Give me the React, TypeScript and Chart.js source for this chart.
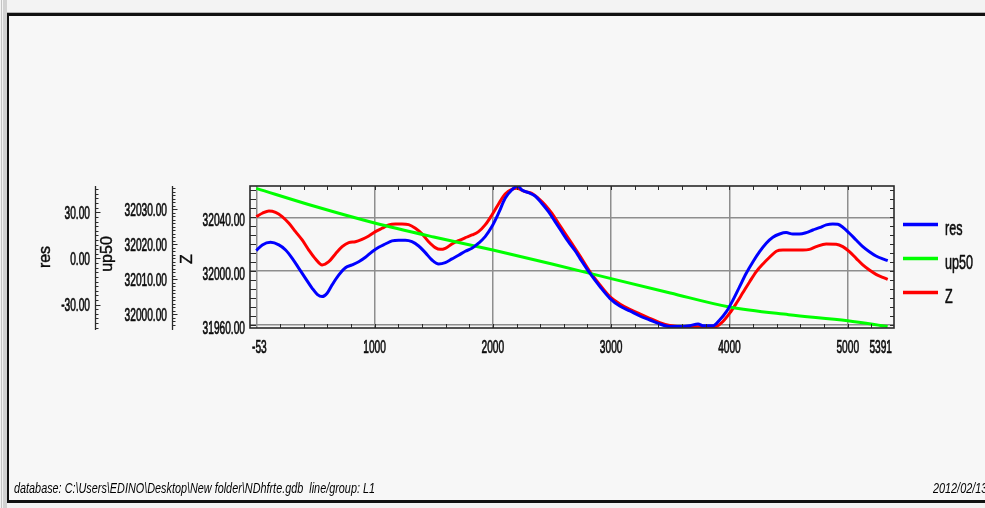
import { useEffect, useRef } from 'react';
import { Chart, registerables } from 'chart.js';

Chart.register(...registerables);

// ---------- data ----------
const seriesNames = ['res', 'up50', 'Z'];

const resX = [0, 51, 121, 191, 248, 304, 360, 416, 473, 515, 557, 599, 641, 698, 754, 810, 866, 923, 979, 1035, 1091, 1148, 1204, 1260, 1316, 1373, 1429, 1485, 1542, 1598, 1654, 1710, 1767, 1823, 1879, 1935, 1992, 2048, 2104, 2160, 2211, 2245, 2301, 2357, 2413, 2470, 2526, 2582, 2638, 2695, 2736, 2820, 2905, 2989, 3073, 3158, 3242, 3327, 3411, 3495, 3580, 3664, 3735, 3777, 3861, 3917, 3974, 4030, 4086, 4142, 4199, 4255, 4311, 4367, 4424, 4480, 4536, 4592, 4649, 4705, 4761, 4818, 4874, 4916, 4958, 5014, 5071, 5127, 5183, 5239, 5296, 5338];
const resValues = [5.1, 8.8, 10.5, 8.8, 5.5, 0.1, -6.4, -12.9, -19.4, -23.3, -24.8, -22.6, -17.2, -10.7, -6.0, -4.2, -2.1, 0.8, 4.4, 7.3, 9.4, 11.4, 11.8, 11.8, 10.9, 8.1, 3.8, -1.0, -3.6, -2.7, -0.3, 2.1, 4.7, 6.6, 9.9, 14.2, 20.7, 29.4, 39.1, 44.5, 47.1, 44.5, 42.8, 40.6, 35.9, 30.4, 23.9, 17.4, 10.9, 5.0, 0.1, -9.6, -18.3, -25.9, -30.9, -34.1, -37.4, -40.0, -42.6, -44.3, -44.3, -43.7, -42.6, -43.7, -43.7, -40.0, -34.6, -27.0, -18.3, -9.6, -2.1, 4.4, 9.9, 13.8, 15.9, 16.8, 15.9, 15.9, 16.8, 18.5, 20.0, 21.8, 22.4, 22.2, 20.3, 16.4, 12.0, 7.7, 4.4, 1.6, -0.3, -1.4];

const up50X = [0, 500, 1000, 1500, 2000, 2500, 3000, 3500, 4000, 4500, 5000, 5337];
const up50Values = [32036.0, 32030.8, 32026.1, 32022.1, 32018.4, 32014.4, 32010.2, 32006.1, 32002.1, 31999.9, 31998.2, 31996.5];

const zX = [0, 51, 107, 163, 219, 276, 332, 388, 444, 501, 557, 613, 669, 726, 782, 838, 894, 951, 1007, 1063, 1120, 1176, 1232, 1288, 1345, 1401, 1457, 1513, 1556, 1598, 1654, 1710, 1767, 1823, 1879, 1935, 1992, 2048, 2104, 2160, 2203, 2273, 2329, 2385, 2442, 2498, 2554, 2610, 2667, 2736, 2820, 2905, 2989, 3073, 3158, 3242, 3327, 3411, 3495, 3580, 3664, 3749, 3833, 3889, 3945, 4002, 4058, 4114, 4171, 4227, 4283, 4339, 4396, 4452, 4536, 4621, 4677, 4733, 4818, 4902, 4958, 5014, 5071, 5127, 5183, 5239, 5296, 5338];
const zValues = [32040.5, 32043.0, 32044.7, 32043.7, 32040.5, 32035.5, 32029.3, 32023.1, 32015.6, 32008.9, 32004.5, 32006.9, 32012.7, 32018.1, 32021.1, 32021.8, 32023.6, 32026.1, 32029.3, 32031.8, 32034.3, 32035.0, 32035.0, 32034.5, 32031.8, 32027.6, 32021.8, 32017.4, 32016.1, 32016.9, 32020.1, 32022.6, 32024.8, 32026.8, 32029.3, 32034.3, 32041.7, 32049.9, 32057.4, 32060.8, 32061.6, 32059.1, 32057.9, 32054.1, 32049.2, 32043.0, 32035.5, 32028.1, 32020.5, 32011.2, 31999.5, 31989.6, 31980.9, 31975.4, 31971.4, 31968.0, 31964.7, 31961.5, 31959.3, 31958.5, 31958.5, 31958.5, 31957.8, 31958.5, 31962.3, 31968.5, 31975.9, 31983.9, 31992.0, 31999.5, 32005.2, 32010.2, 32014.7, 32015.6, 32015.6, 32015.6, 32016.1, 32018.1, 32020.1, 32019.9, 32018.1, 32014.4, 32009.4, 32004.5, 32000.7, 31997.5, 31995.3, 31993.8];

// axis ranges and ticks
const xMin = -53;
const xMax = 5391;
const xTickLabels = [-53, 1000, 2000, 3000, 4000, 5000, 5391];
const xGridValues = [0, 1000, 2000, 3000, 4000, 5000];
const xMinorStep = 200;

const zMin = 31957.5;
const zMax = 32063.3;
const zTickValues = [31960, 32000, 32040];
const zMinorStep = 40 / 6;

const up50Min = 31996.1;
const up50Max = 32036.66;
const up50TickValues = [32000, 32010, 32020, 32030];
const up50MinorStep = 1;

const resMin = -45.2;
const resMax = 47.1;
const resTickValues = [-30, 0, 30];
const resMinorStep = 3;

const FOOTER_TEXT = 'database: C:\\Users\\EDINO\\Desktop\\New folder\\NDhfrte.gdb  line/group: L1';
const DATE_TEXT = '2012/02/13';

// ---------- styles ----------
const COLORS = ['#0000ff', '#00ff00', '#ff0000'];
const GRID = '#8e8e8e';
const INK = '#0c0c0c';
const FRAME = '#2a2a2a';
const FONT_FAMILY = '"Liberation Sans", Arial, sans-serif';
const TICK_FONT = `18px ${FONT_FAMILY}`;
const TICK_SX = 0.565;
const TITLE_FONT = `16px ${FONT_FAMILY}`;
const LEGEND_FONT = `21px ${FONT_FAMILY}`;
const LEGEND_SX = 0.6;
const FOOTER_FONT = `italic 15px ${FONT_FAMILY}`;
const FOOTER_WIDTH = 361;

function squish(ctx: CanvasRenderingContext2D, text: string, x: number, y: number, align: 'left' | 'right' | 'center', font: string, sx: number, bolden = 0) {
  ctx.save();
  ctx.font = font;
  const w = ctx.measureText(text).width * sx;
  const left = align === 'left' ? x : align === 'right' ? x - w : x - w / 2;
  ctx.translate(left, y);
  ctx.scale(sx, 1);
  ctx.textAlign = 'left';
  ctx.textBaseline = 'alphabetic';
  ctx.fillText(text, 0, 0);
  if (bolden > 0) {
    ctx.strokeStyle = ctx.fillStyle as string;
    ctx.lineWidth = bolden;
    ctx.lineJoin = 'round';
    ctx.strokeText(text, 0, 0);
  }
  ctx.restore();
}

function rotatedTitle(ctx: CanvasRenderingContext2D, text: string, baselineX: number, cy: number) {
  ctx.save();
  ctx.font = TITLE_FONT;
  ctx.translate(baselineX, cy);
  ctx.rotate(-Math.PI / 2);
  ctx.textAlign = 'center';
  ctx.textBaseline = 'alphabetic';
  ctx.fillText(text, 0, 0);
  ctx.strokeStyle = ctx.fillStyle as string;
  ctx.lineWidth = 0.4;
  ctx.strokeText(text, 0, 0);
  ctx.restore();
}

const profilePlugin = {
  id: 'profileDecor',
  afterDatasetsDraw(chart: any) {
    const { ctx, chartArea: a, scales } = chart;
    const sx = scales.x;
    const sZ = scales.yZ;
    const sUp = scales.yUp50;
    const sRes = scales.yRes;
    ctx.save();

    // plot frame
    ctx.strokeStyle = FRAME;
    ctx.lineWidth = 1.6;
    ctx.strokeRect(a.left, a.top, a.right - a.left, a.bottom - a.top);

    // inner tick marks
    ctx.lineWidth = 1;
    ctx.beginPath();
    for (let i = Math.ceil(sZ.min / zMinorStep); i * zMinorStep <= sZ.max; i++) {
      const py = Math.round(sZ.getPixelForValue(i * zMinorStep)) + 0.5;
      ctx.moveTo(a.left, py);
      ctx.lineTo(a.left + 6, py);
      ctx.moveTo(a.right, py);
      ctx.lineTo(a.right - 4, py);
    }
    for (let i = 1; i * xMinorStep < sx.max; i++) {
      const px = Math.round(sx.getPixelForValue(i * xMinorStep)) + 0.5;
      ctx.moveTo(px, a.top);
      ctx.lineTo(px, a.top + 4);
      ctx.moveTo(px, a.bottom);
      ctx.lineTo(px, a.bottom - 4);
    }
    ctx.stroke();

    // detached axes (res, up50)
    const detached = (scale: any, step: number, majors: number[]) => {
      const ax = Math.round(scale.right) + 0.5;
      ctx.beginPath();
      ctx.lineWidth = 1.3;
      ctx.moveTo(ax, a.top);
      ctx.lineTo(ax, a.bottom + 2);
      ctx.stroke();
      ctx.beginPath();
      ctx.lineWidth = 1;
      for (let i = Math.ceil(scale.min / step); i * step <= scale.max; i++) {
        const v = i * step;
        const major = majors.some((m) => Math.abs(m - v) < 1e-6);
        const py = Math.round(scale.getPixelForValue(v)) + 0.5;
        ctx.moveTo(ax, py);
        ctx.lineTo(ax + (major ? 5 : 3), py);
      }
      ctx.stroke();
    };
    detached(sRes, resMinorStep, resTickValues);
    detached(sUp, up50MinorStep, up50TickValues);

    // tick labels
    ctx.fillStyle = INK;
    const B = 0.7;
    resTickValues.forEach((v) => squish(ctx, v.toFixed(2), sRes.right - 5, sRes.getPixelForValue(v) + 6.4, 'right', TICK_FONT, TICK_SX, B));
    up50TickValues.forEach((v) => squish(ctx, v.toFixed(2), sUp.right - 5, sUp.getPixelForValue(v) + 6.4, 'right', TICK_FONT, TICK_SX, B));
    zTickValues.forEach((v) => squish(ctx, v.toFixed(2), sZ.right - 5, sZ.getPixelForValue(v) + 9.2, 'right', TICK_FONT, TICK_SX, B));
    xTickLabels.forEach((v, i) => {
      const last = xTickLabels.length - 1;
      const px = sx.getPixelForValue(v);
      const align = i === 0 ? 'left' : i === last ? 'right' : 'center';
      const off = i === 0 ? 2 : i === last ? -2 : 0;
      squish(ctx, String(v), px + off, a.bottom + 25, align, TICK_FONT, TICK_SX, B);
    });

    // axis titles
    const cy = (a.top + a.bottom) / 2;
    rotatedTitle(ctx, seriesNames[0], sRes.left + 20, cy);
    rotatedTitle(ctx, seriesNames[1], sUp.left + 16.6, cy - 3);
    rotatedTitle(ctx, seriesNames[2], sZ.left + 19.7, cy + 2);

    // legend
    seriesNames.forEach((name, i) => {
      const ly = a.top + 38.5 + i * 34;
      ctx.beginPath();
      ctx.strokeStyle = COLORS[i];
      ctx.lineWidth = 3.5;
      ctx.moveTo(a.right + 9, ly);
      ctx.lineTo(a.right + 44, ly);
      ctx.stroke();
      ctx.fillStyle = INK;
      squish(ctx, name, a.right + 51, ly + 10, 'left', LEGEND_FONT, LEGEND_SX, 0.6);
    });

    ctx.restore();
  },
};

function pts(xs: number[], ys: number[]) {
  return xs.map((x, i) => ({ x, y: ys[i] }));
}

export default function App() {
  const canvasRef = useRef<HTMLCanvasElement>(null);
  const footRef = useRef<HTMLDivElement>(null);
  const dateRef = useRef<HTMLDivElement>(null);

  useEffect(() => {
    const canvas = canvasRef.current;
    if (!canvas) return;
    const lineBase = { borderWidth: 3, pointRadius: 0, fill: false, cubicInterpolationMode: 'monotone' as const };
    const chart = new Chart(canvas, {
      type: 'line',
      data: {
        datasets: [
          { ...lineBase, label: seriesNames[0], data: pts(resX, resValues), yAxisID: 'yRes', borderColor: COLORS[0] },
          { ...lineBase, label: seriesNames[1], data: pts(up50X, up50Values), yAxisID: 'yUp50', borderColor: COLORS[1] },
          { ...lineBase, label: seriesNames[2], data: pts(zX, zValues), yAxisID: 'yZ', borderColor: COLORS[2] },
        ],
      },
      options: {
        animation: false,
        responsive: false,
        events: [],
        layout: { padding: { left: 30, right: 91, top: 186, bottom: 150 } },
        plugins: { legend: { display: false }, tooltip: { enabled: false } },
        scales: {
          x: {
            type: 'linear',
            position: 'bottom',
            min: xMin,
            max: xMax,
            afterBuildTicks: (s: any) => { s.ticks = xGridValues.map((v) => ({ value: v })); },
            afterFit: (s: any) => { s.height = 30; },
            ticks: { display: false },
            border: { display: false },
            grid: { color: GRID, lineWidth: 1.5, drawTicks: false },
          },
          yZ: {
            type: 'linear',
            position: 'left',
            weight: 1,
            min: zMin,
            max: zMax,
            afterBuildTicks: (s: any) => { s.ticks = zTickValues.map((v) => ({ value: v })); },
            afterFit: (s: any) => { s.width = 78; },
            ticks: { display: false },
            border: { display: false },
            grid: { color: GRID, lineWidth: 1.5, drawTicks: false },
          },
          yUp50: {
            type: 'linear',
            position: 'left',
            weight: 2,
            min: up50Min,
            max: up50Max,
            afterBuildTicks: (s: any) => { s.ticks = up50TickValues.map((v) => ({ value: v })); },
            afterFit: (s: any) => { s.width = 77; },
            ticks: { display: false },
            border: { display: false },
            grid: { display: false, drawTicks: false },
          },
          yRes: {
            type: 'linear',
            position: 'left',
            weight: 3,
            min: resMin,
            max: resMax,
            afterBuildTicks: (s: any) => { s.ticks = resTickValues.map((v) => ({ value: v })); },
            afterFit: (s: any) => { s.width = 65; },
            ticks: { display: false },
            border: { display: false },
            grid: { display: false, drawTicks: false },
          },
        },
      } as any,
      plugins: [profilePlugin as any],
    });

    const mctx = document.createElement('canvas').getContext('2d');
    if (mctx) {
      mctx.font = FOOTER_FONT;
      const s = FOOTER_WIDTH / mctx.measureText(FOOTER_TEXT).width;
      if (footRef.current) footRef.current.style.transform = `scaleX(${s})`;
      if (dateRef.current) dateRef.current.style.transform = `scaleX(${s})`;
    }
    return () => chart.destroy();
  }, []);

  const footStyle: React.CSSProperties = {
    position: 'absolute',
    top: 479,
    font: FOOTER_FONT,
    lineHeight: '17px',
    color: '#000',
    whiteSpace: 'pre',
    transformOrigin: 'left top',
  };

  return (
    <div style={{ position: 'fixed', left: 0, top: 0, width: 985, height: 508, overflow: 'hidden', background: '#f3f3f3' }}>
      <div style={{ position: 'absolute', left: 1, top: 0, width: 1, height: 508, background: '#c4c4c4' }} />
      <div style={{ position: 'absolute', left: 3, top: 0, width: 4, height: 508, background: '#d2d2d2' }} />
      <div style={{ position: 'absolute', left: 7, top: 12, width: 1000, height: 1, background: '#b4b4b4' }} />
      <div
        style={{
          position: 'absolute',
          left: 7,
          top: 13,
          width: 1000,
          height: 490,
          boxSizing: 'border-box',
          borderTop: '3px solid #111',
          borderLeft: '2.5px solid #111',
          borderBottom: '3px solid #111',
          background: '#f7f7f7',
        }}
      />
      <canvas ref={canvasRef} width={985} height={508} style={{ position: 'absolute', left: 0, top: 0 }} />
      <div ref={footRef} style={{ ...footStyle, left: 14 }}>{FOOTER_TEXT}</div>
      <div ref={dateRef} style={{ ...footStyle, left: 933 }}>{DATE_TEXT}</div>
    </div>
  );
}
